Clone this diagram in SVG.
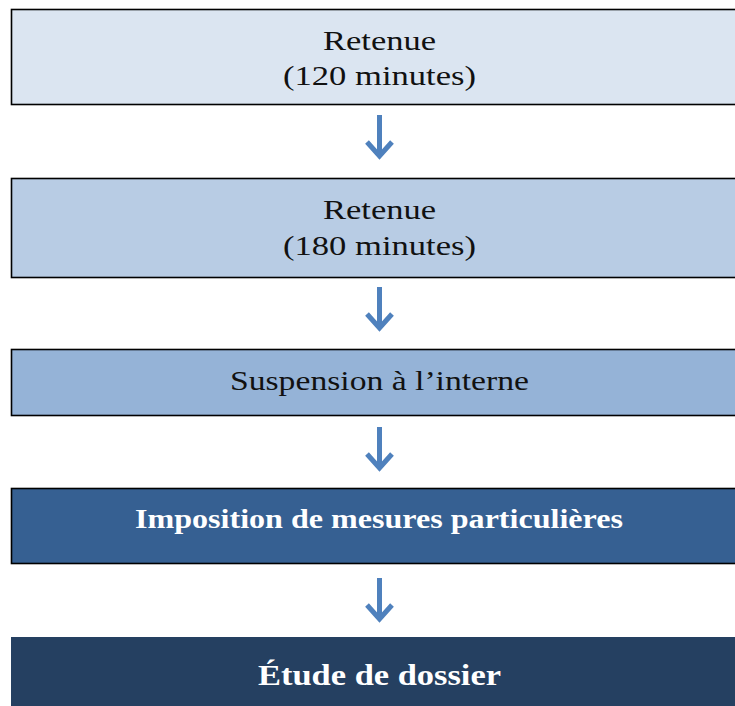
<svg xmlns="http://www.w3.org/2000/svg" width="735" height="706" viewBox="0 0 735 706">
<style>
.box{stroke:#000;stroke-width:1.6}
.t{font-family:"Liberation Serif","DejaVu Serif",serif;font-size:27px;fill:#111;text-anchor:middle}
.b{font-family:"Liberation Serif","DejaVu Serif",serif;font-weight:bold;fill:#fff;text-anchor:middle}
.arr{stroke:#4f81bd;stroke-width:5;fill:none;stroke-linecap:butt}
</style>
<rect width="735" height="706" fill="#fff"/>
<g id="n1">
<rect class="box" x="11.5" y="9.5" width="730" height="95" fill="#dbe5f1"/>
<text class="t" x="379.5" y="50" textLength="113" lengthAdjust="spacingAndGlyphs">Retenue</text>
<text class="t" x="379.5" y="85" textLength="193" lengthAdjust="spacingAndGlyphs">(120 minutes)</text>
</g>
<g id="n2">
<rect class="box" x="11.5" y="178.5" width="730" height="99" fill="#b8cce4"/>
<text class="t" x="379.5" y="219" textLength="113" lengthAdjust="spacingAndGlyphs">Retenue</text>
<text class="t" x="379.5" y="255" textLength="193" lengthAdjust="spacingAndGlyphs">(180 minutes)</text>
</g>
<g id="n3">
<rect class="box" x="11.5" y="349.5" width="730" height="66" fill="#95b3d7"/>
<text class="t" x="379.5" y="390" textLength="299" lengthAdjust="spacingAndGlyphs">Suspension à l’interne</text>
</g>
<g id="n4">
<rect class="box" x="11.5" y="488.5" width="730" height="75" fill="#366092"/>
<text class="b" x="379" y="528" font-size="27" textLength="488" lengthAdjust="spacingAndGlyphs">Imposition de mesures particulières</text>
</g>
<g id="n5">
<rect x="11" y="637" width="724" height="69" fill="#254061"/>
<text class="b" x="379.5" y="685" font-size="29" textLength="243" lengthAdjust="spacingAndGlyphs">Étude de dossier</text>
</g>
<g id="connectors">
<path class="arr" d="M379.5 115V156M367 142L379.5 156L392 142"/>
<path class="arr" d="M379.5 287V328M367 314L379.5 328L392 314"/>
<path class="arr" d="M379.5 427V468M367 454L379.5 468L392 454"/>
<path class="arr" d="M379.5 578V619M367 605L379.5 619L392 605"/>
</g>
</svg>
